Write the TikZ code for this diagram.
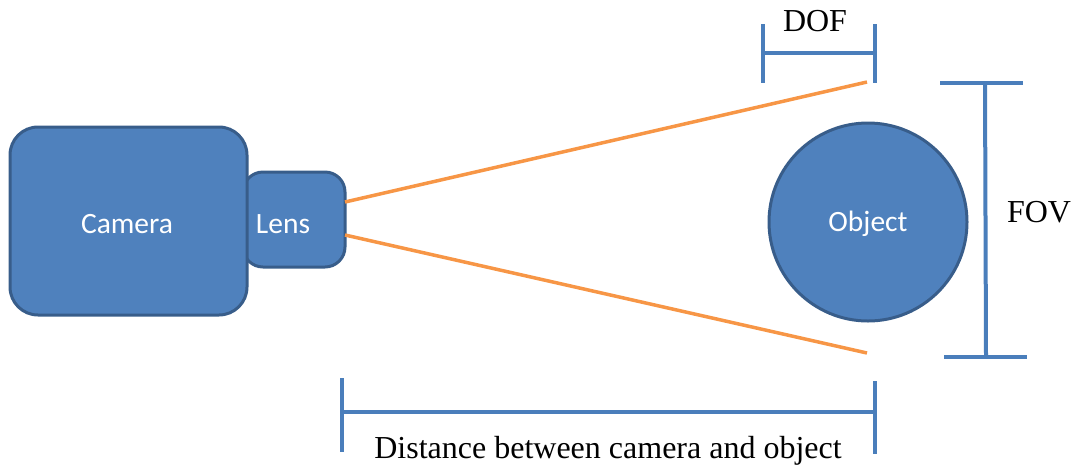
\documentclass[tikz,border=0pt]{standalone}
\usepackage{fontspec}
\setmainfont{Liberation Serif}
\newfontfamily\labelsans{Carlito}
\definecolor{boxfill}{HTML}{4F81BD}
\definecolor{boxedge}{HTML}{385D8A}
\definecolor{barblue}{HTML}{4A7EBB}
\definecolor{rayorange}{HTML}{F79646}
\tikzset{
  part/.style={draw=boxedge, line width=3pt, fill=boxfill, inner sep=0pt},
  partlabel/.style={text=white, font=\labelsans\fontsize{29.5}{34}\selectfont, inner sep=0pt},
  ray/.style={draw=rayorange, line width=3.5pt},
  bar/.style={draw=barblue, line width=4pt},
  caption/.style={font=\fontsize{32}{37}\selectfont, inner sep=0pt}
}
\begin{document}
\begin{tikzpicture}[x=1pt,y=-1pt]
\useasboundingbox (0,0) rectangle (1075,467);

% camera body and lens
\node[part, rounded corners=20pt, minimum width=102pt, minimum height=95pt] (lens) at (294,219.5) {};
\node[part, rounded corners=28pt, minimum width=237pt, minimum height=188pt] (camera) at (128.5,221) {};
\node[partlabel] (cameratext) at (127,224) {Camera};
\node[partlabel] (lenstext) at (283,224) {Lens};

% object
\node[part, circle, minimum size=198pt] (object) at (868,222) {};
\node[partlabel] (objecttext) at (868,224) {Object};

% rays of the field of view
\coordinate (rayA) at (345,202);
\coordinate (rayB) at (345,235);
\coordinate (rayAend) at (867,82);
\coordinate (rayBend) at (867,353);
\draw[ray] (rayA) -- (rayAend);
\draw[ray] (rayB) -- (rayBend);

% depth of field
\coordinate (dofL) at (763,53);
\coordinate (dofR) at (875,53);
\draw[bar] (dofL) ++(0,-29) -- ++(0,59);
\draw[bar] (dofR) ++(0,-29) -- ++(0,59);
\draw[bar] (dofL) -- (dofR);
\node[caption] (dof) at (815,21) {DOF};

% field of view
\coordinate (fovT) at (985,83);
\coordinate (fovB) at (986,357);
\draw[bar] (fovT) -- (fovB);
\draw[bar] (fovT) ++(-45,0) -- ++(83,0);
\draw[bar] (fovB) ++(-42,0) -- ++(83,0);
\node[caption] (fov) at (1039,212) {FOV};

% working distance
\coordinate (distL) at (342,412);
\coordinate (distR) at (875,412);
\draw[bar] (distL) ++(0,-34) -- ++(0,74);
\draw[bar] (distR) ++(0,-31) -- ++(0,73);
\draw[bar] (distL) -- (distR);
\node[caption] (dist) at (608,451) {Distance between camera and object};
\end{tikzpicture}
\end{document}
